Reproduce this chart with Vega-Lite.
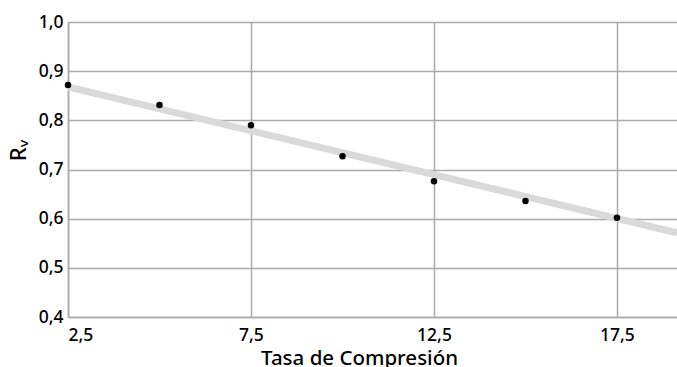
{
  "$schema": "https://vega.github.io/schema/vega-lite/v6.json",
  "width": 609,
  "height": 295,
  "autosize": {"type": "none"},
  "padding": {"left": 68, "top": 22, "right": 0, "bottom": 50},
  "background": "white",
  "config": {
    "view": {"stroke": null},
    "font": "Noto Sans",
    "axis": {
      "labelFont": "Noto Sans",
      "titleFont": "Noto Sans",
      "labelColor": "#000",
      "titleColor": "#000",
      "labelFontSize": 17.5,
      "labelFontWeight": 500,
      "titleFontSize": 20.5,
      "titleFontWeight": 500,
      "gridColor": "#aaaaaa",
      "gridWidth": 1.5,
      "gridOpacity": 1,
      "domainColor": "#aaaaaa",
      "domainWidth": 1.5,
      "ticks": false
    }
  },
  "layer": [
    {
      "data": {"values": [
        {"tasa": 2.5, "rv": 0.868},
        {"tasa": 19.14, "rv": 0.571}
      ]},
      "mark": {"type": "line", "color": "#d9d9d9", "strokeWidth": 7, "clip": true},
      "encoding": {
        "x": {"field": "tasa", "type": "quantitative"},
        "y": {"field": "rv", "type": "quantitative"}
      }
    },
    {
      "data": {"values": [
        {"tasa": 2.5, "rv": 0.872},
        {"tasa": 5, "rv": 0.831},
        {"tasa": 7.5, "rv": 0.79},
        {"tasa": 10, "rv": 0.727},
        {"tasa": 12.5, "rv": 0.676},
        {"tasa": 15, "rv": 0.636},
        {"tasa": 17.5, "rv": 0.602}
      ]},
      "mark": {"type": "point", "filled": true, "color": "black", "opacity": 1, "size": 42, "clip": false},
      "encoding": {
        "x": {
          "field": "tasa", "type": "quantitative",
          "scale": {"domain": [2.5, 19.14], "nice": false, "zero": false},
          "axis": {
            "values": [2.5, 7.5, 12.5, 17.5],
            "labelExpr": "replace(format(datum.value, '.1f'), '.', ',')",
            "labelPadding": 9,
            "title": "Tasa de Compresión",
            "titlePadding": 0,
            "titleX": 291,
            "titleAlign": "center",
            "titleY": 47,
            "titleBaseline": "alphabetic"
          }
        },
        "y": {
          "field": "rv", "type": "quantitative",
          "scale": {"domain": [0.4, 1.0], "nice": false, "zero": false},
          "axis": {
            "values": [0.4, 0.5, 0.6, 0.7, 0.8, 0.9, 1.0],
            "labelExpr": "replace(format(datum.value, '.1f'), '.', ',')",
            "labelPadding": 5,
            "title": "Rᵥ",
            "titleFontSize": 22,
            "titleAngle": -90,
            "titleAlign": "center",
            "titleBaseline": "middle",
            "titleX": -50,
            "titleY": 128
          }
        }
      }
    }
  ]
}
